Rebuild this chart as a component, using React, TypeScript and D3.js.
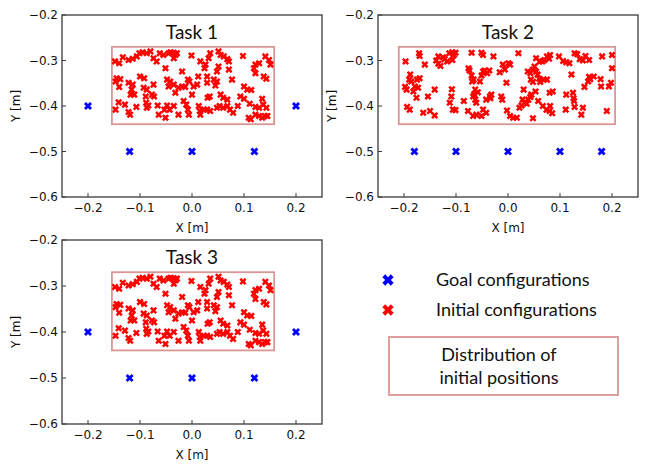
import * as d3 from "d3";

const WIDTH = 649;
const HEIGHT = 466;

const X_TICKS = [-0.2, -0.1, 0.0, 0.1, 0.2];
const Y_TICKS = [-0.2, -0.3, -0.4, -0.5, -0.6];
const X_DOMAIN: [number, number] = [-0.25, 0.25];
const Y_DOMAIN: [number, number] = [-0.6, -0.2];

const TITLES = ["Task 1", "Task 2", "Task 3"];
const LEGEND_LABELS = ["Goal configurations", "Initial configurations"];
const REGION_LABEL = ["Distribution of", "initial positions"];

// goal configurations [x, y]
const TASK1_GOALS: [number, number][] = [
  [-0.2, -0.4], [-0.12, -0.5], [0.0, -0.5], [0.12, -0.5], [0.2, -0.4],
];
const TASK2_GOALS: [number, number][] = [
  [-0.18, -0.5], [-0.1, -0.5], [0.0, -0.5], [0.1, -0.5], [0.18, -0.5],
];

// distribution box [x0, x1, y0, y1]
const TASK1_REGION = [-0.154, 0.158, -0.44, -0.27];
const TASK2_REGION = [-0.21, 0.206, -0.44, -0.27];

// initial configurations [x, y]
const TASK1_INITIAL: [number, number][] = [
  [-0.148, -0.302], [-0.140, -0.306], [-0.133, -0.293], [-0.122, -0.299], [-0.114, -0.296],
  [-0.106, -0.291], [-0.101, -0.284], [-0.095, -0.282], [-0.087, -0.284], [-0.080, -0.280],
  [-0.074, -0.295], [-0.068, -0.302], [-0.062, -0.284], [-0.055, -0.288], [-0.051, -0.317],
  [-0.045, -0.284], [-0.041, -0.282], [-0.035, -0.283], [-0.032, -0.288], [-0.029, -0.284],
  [-0.035, -0.295], [-0.019, -0.324], [-0.001, -0.289], [0.016, -0.302], [0.026, -0.309],
  [0.032, -0.295], [0.035, -0.284], [0.024, -0.317], [0.051, -0.280], [0.055, -0.288],
  [0.061, -0.291], [0.068, -0.297], [0.071, -0.302], [0.051, -0.313], [0.048, -0.324],
  [0.071, -0.320], [0.098, -0.290], [0.122, -0.309], [0.129, -0.306], [0.119, -0.317],
  [0.122, -0.328], [0.141, -0.291], [0.148, -0.299], [0.151, -0.309], [0.138, -0.335],
  [0.143, -0.340],
  [-0.145, -0.339], [-0.147, -0.346], [-0.138, -0.341], [-0.140, -0.358], [-0.122, -0.349],
  [-0.114, -0.353], [-0.116, -0.364], [-0.118, -0.375], [-0.111, -0.375], [-0.100, -0.335],
  [-0.092, -0.339], [-0.093, -0.360], [-0.087, -0.364], [-0.089, -0.379], [-0.077, -0.375],
  [-0.073, -0.379], [-0.074, -0.353], [-0.048, -0.342], [-0.045, -0.357], [-0.035, -0.353],
  [-0.042, -0.346], [-0.032, -0.371], [-0.026, -0.360], [-0.019, -0.357], [-0.013, -0.358],
  [-0.008, -0.342], [-0.005, -0.346], [0.003, -0.357], [0.010, -0.353], [0.000, -0.375],
  [0.012, -0.335], [0.029, -0.335], [0.029, -0.349], [0.042, -0.342], [0.048, -0.346],
  [0.045, -0.355], [0.055, -0.375], [0.060, -0.382], [0.068, -0.386], [0.077, -0.342],
  [0.100, -0.357], [0.106, -0.364], [0.114, -0.365], [0.093, -0.379], [0.100, -0.384],
  [0.135, -0.384],
  [-0.147, -0.408], [-0.141, -0.392], [-0.129, -0.397], [-0.122, -0.413], [-0.119, -0.419],
  [-0.107, -0.402], [-0.088, -0.393], [-0.087, -0.404], [-0.084, -0.399], [-0.066, -0.399],
  [-0.064, -0.419], [-0.053, -0.408], [-0.048, -0.399], [-0.051, -0.426], [-0.043, -0.408],
  [-0.035, -0.400], [-0.026, -0.419], [-0.016, -0.389], [-0.011, -0.397], [-0.008, -0.408],
  [-0.006, -0.419], [0.013, -0.400], [0.015, -0.411], [0.016, -0.419], [0.023, -0.408],
  [0.029, -0.408], [0.035, -0.411], [0.030, -0.382], [0.034, -0.379], [0.048, -0.404],
  [0.053, -0.400], [0.060, -0.404], [0.068, -0.400], [0.073, -0.408], [0.079, -0.415],
  [0.088, -0.400], [0.109, -0.426], [0.113, -0.429], [0.122, -0.419], [0.129, -0.422],
  [0.135, -0.426], [0.140, -0.422], [0.145, -0.422], [0.122, -0.402], [0.129, -0.404],
  [0.137, -0.397], [0.143, -0.404], [0.111, -0.395],
];

const TASK2_INITIAL: [number, number][] = [
  [-0.197, -0.302], [-0.188, -0.331], [-0.190, -0.342], [-0.198, -0.358], [-0.195, -0.364],
  [-0.186, -0.346], [-0.179, -0.357], [-0.182, -0.368], [-0.175, -0.342], [-0.170, -0.339],
  [-0.173, -0.360], [-0.176, -0.382], [-0.194, -0.402], [-0.189, -0.408], [-0.171, -0.284],
  [-0.170, -0.290], [-0.160, -0.309], [-0.163, -0.415], [-0.154, -0.379], [-0.150, -0.411],
  [-0.141, -0.421], [-0.141, -0.364], [-0.134, -0.291], [-0.138, -0.300], [-0.134, -0.307],
  [-0.130, -0.312], [-0.125, -0.293], [-0.122, -0.297], [-0.117, -0.302], [-0.113, -0.284],
  [-0.107, -0.282], [-0.104, -0.288], [-0.107, -0.299], [-0.101, -0.283], [-0.109, -0.379],
  [-0.112, -0.393], [-0.108, -0.363], [-0.106, -0.408], [-0.101, -0.409], [-0.085, -0.389],
  [-0.077, -0.411], [-0.076, -0.317], [-0.074, -0.322], [-0.070, -0.333], [-0.069, -0.346],
  [-0.066, -0.342], [-0.067, -0.379], [-0.065, -0.374], [-0.063, -0.386], [-0.061, -0.393],
  [-0.061, -0.419], [-0.067, -0.422], [-0.063, -0.364], [-0.058, -0.370], [-0.070, -0.283],
  [-0.051, -0.283], [-0.048, -0.288], [-0.054, -0.346], [-0.051, -0.333], [-0.048, -0.324],
  [-0.045, -0.322], [-0.040, -0.328], [-0.036, -0.322], [-0.035, -0.379], [-0.032, -0.375],
  [-0.034, -0.383], [-0.042, -0.386], [-0.048, -0.408], [-0.051, -0.422], [-0.042, -0.415],
  [-0.028, -0.291], [-0.016, -0.326], [-0.010, -0.309], [-0.006, -0.320], [0.001, -0.306],
  [0.004, -0.309], [-0.003, -0.349], [-0.013, -0.379], [-0.011, -0.386], [-0.002, -0.410],
  [0.004, -0.422], [0.010, -0.426], [0.017, -0.426], [0.020, -0.284], [0.022, -0.404],
  [0.026, -0.399], [0.030, -0.364], [0.028, -0.386], [0.032, -0.392], [0.036, -0.395],
  [0.039, -0.386], [0.043, -0.380], [0.045, -0.375], [0.038, -0.324], [0.043, -0.328],
  [0.048, -0.320], [0.051, -0.313], [0.054, -0.324], [0.057, -0.331], [0.060, -0.340],
  [0.062, -0.347], [0.044, -0.342], [0.048, -0.347], [0.054, -0.295], [0.061, -0.302],
  [0.066, -0.302], [0.070, -0.299], [0.075, -0.291], [0.079, -0.296], [0.081, -0.288],
  [0.048, -0.427], [0.053, -0.368], [0.058, -0.389], [0.069, -0.342], [0.075, -0.342],
  [0.067, -0.400], [0.074, -0.408], [0.080, -0.411], [0.081, -0.400], [0.085, -0.416],
  [0.080, -0.371], [0.086, -0.368], [0.098, -0.291], [0.106, -0.301], [0.112, -0.304],
  [0.118, -0.306], [0.122, -0.331], [0.128, -0.284], [0.133, -0.286], [0.138, -0.297],
  [0.144, -0.300], [0.149, -0.290], [0.111, -0.408], [0.112, -0.375], [0.125, -0.371],
  [0.126, -0.383], [0.127, -0.389], [0.128, -0.402], [0.144, -0.404], [0.141, -0.419],
  [0.147, -0.358], [0.154, -0.346], [0.156, -0.336], [0.158, -0.341], [0.165, -0.335],
  [0.156, -0.299], [0.178, -0.341], [0.179, -0.357], [0.181, -0.291], [0.200, -0.288],
  [0.200, -0.317], [0.194, -0.357], [0.198, -0.349], [0.190, -0.411],
];

const TASK3_INITIAL = TASK1_INITIAL;
const TASK3_GOALS = TASK1_GOALS;

const RED = "#ff0000";
const BLUE = "#0000ff";
const REGION_COLOR = "#d99694";
const AXIS_COLOR = "#3a3a3a";
const TICK_FONT = "'DejaVu Sans', sans-serif";
const TEXT_FONT = "Lato, 'Open Sans', sans-serif";

// matplotlib style filled "X" marker, centred at 0,0
function xMarker(size: number) {
  const pts = [
    [-1, -3], [1, -3], [1, -1], [3, -1], [3, 1], [1, 1],
    [1, 3], [-1, 3], [-1, 1], [-3, 1], [-3, -1], [-1, -1],
  ].map(([x, y]) => {
    const sx = (x / 6) * size;
    const sy = (y / 6) * size;
    return [(sx - sy) / Math.SQRT2, (sx + sy) / Math.SQRT2] as [number, number];
  });
  return d3.line()(pts) + "Z";
}

const fmt = d3.format(".1f");

type PanelProps = {
  left: number;
  top: number;
  width: number;
  height: number;
  title: string;
  initial: [number, number][];
  goals: [number, number][];
  region: number[];
};

function Panel({ left, top, width, height, title, initial, goals, region }: PanelProps) {
  const x = d3.scaleLinear().domain(X_DOMAIN).range([left, left + width]);
  const y = d3.scaleLinear().domain(Y_DOMAIN).range([top + height, top]);
  const redPath = xMarker(7.5);
  const bluePath = xMarker(8.5);
  const bottom = top + height;

  return (
    <g>
      <text
        x={x(0)}
        y={top + 24}
        textAnchor="middle"
        fontFamily={TEXT_FONT}
        fontSize={19}
        fill="#111"
      >
        {title}
      </text>
      <rect
        x={x(region[0])}
        y={y(region[3])}
        width={x(region[1]) - x(region[0])}
        height={y(region[2]) - y(region[3])}
        fill="none"
        stroke={REGION_COLOR}
        strokeWidth={1.8}
      />
      {initial.map(([px, py], i) => (
        <path key={`i${i}`} d={redPath} transform={`translate(${x(px)},${y(py)})`} fill={RED} />
      ))}
      {goals.map(([px, py], i) => (
        <path key={`g${i}`} d={bluePath} transform={`translate(${x(px)},${y(py)})`} fill={BLUE} />
      ))}
      <rect
        x={left}
        y={top}
        width={width}
        height={height}
        fill="none"
        stroke={AXIS_COLOR}
        strokeWidth={1.3}
      />
      {X_TICKS.map((t) => (
        <g key={`xt${t}`}>
          <line x1={x(t)} x2={x(t)} y1={bottom} y2={bottom - 4} stroke={AXIS_COLOR} strokeWidth={1} />
          <text
            x={x(t)}
            y={bottom + 15}
            textAnchor="middle"
            fontFamily={TICK_FONT}
            fontSize={12}
            fill="#111"
          >
            {fmt(t)}
          </text>
        </g>
      ))}
      {Y_TICKS.map((t) => (
        <g key={`yt${t}`}>
          <line x1={left} x2={left + 4} y1={y(t)} y2={y(t)} stroke={AXIS_COLOR} strokeWidth={1} />
          <text
            x={left - 4}
            y={y(t)}
            dy="0.35em"
            textAnchor="end"
            fontFamily={TICK_FONT}
            fontSize={12}
            fill="#111"
          >
            {fmt(t)}
          </text>
        </g>
      ))}
      <text
        x={left + width / 2}
        y={bottom + 35}
        textAnchor="middle"
        fontFamily={TICK_FONT}
        fontSize={12}
        fill="#111"
      >
        X [m]
      </text>
      <text
        transform={`translate(${left - 42},${top + height / 2}) rotate(-90)`}
        textAnchor="middle"
        fontFamily={TICK_FONT}
        fontSize={12}
        fill="#111"
      >
        Y [m]
      </text>
    </g>
  );
}

export default function App() {
  const legendMarker = xMarker(12);
  return (
    <svg
      width={WIDTH}
      height={HEIGHT}
      viewBox={`0 0 ${WIDTH} ${HEIGHT}`}
      style={{ position: "absolute", left: 0, top: 0, background: "#fff" }}
    >
      <rect width={WIDTH} height={HEIGHT} fill="#fff" />
      <Panel
        left={62}
        top={15}
        width={260}
        height={182}
        title={TITLES[0]}
        initial={TASK1_INITIAL}
        goals={TASK1_GOALS}
        region={TASK1_REGION}
      />
      <Panel
        left={378}
        top={15}
        width={260}
        height={182}
        title={TITLES[1]}
        initial={TASK2_INITIAL}
        goals={TASK2_GOALS}
        region={TASK2_REGION}
      />
      <Panel
        left={62}
        top={240}
        width={260}
        height={184}
        title={TITLES[2]}
        initial={TASK3_INITIAL}
        goals={TASK3_GOALS}
        region={TASK1_REGION}
      />
      {/* legend */}
      {LEGEND_LABELS.map((label, i) => (
        <g key={label} transform={`translate(0,${280 + i * 30})`}>
          <path d={legendMarker} transform="translate(388,0)" fill={i === 0 ? BLUE : RED} />
          <text x={436} y={0} dy="0.35em" fontFamily={TEXT_FONT} fontSize={18} fill="#111">
            {label}
          </text>
        </g>
      ))}
      <rect x={389} y={337} width={229} height={58} fill="none" stroke={REGION_COLOR} strokeWidth={1.8} />
      {REGION_LABEL.map((line, i) => (
        <text
          key={line}
          x={499}
          y={355 + i * 23}
          dy="0.35em"
          textAnchor="middle"
          fontFamily={TEXT_FONT}
          fontSize={18}
          fill="#111"
        >
          {line}
        </text>
      ))}
    </svg>
  );
}
